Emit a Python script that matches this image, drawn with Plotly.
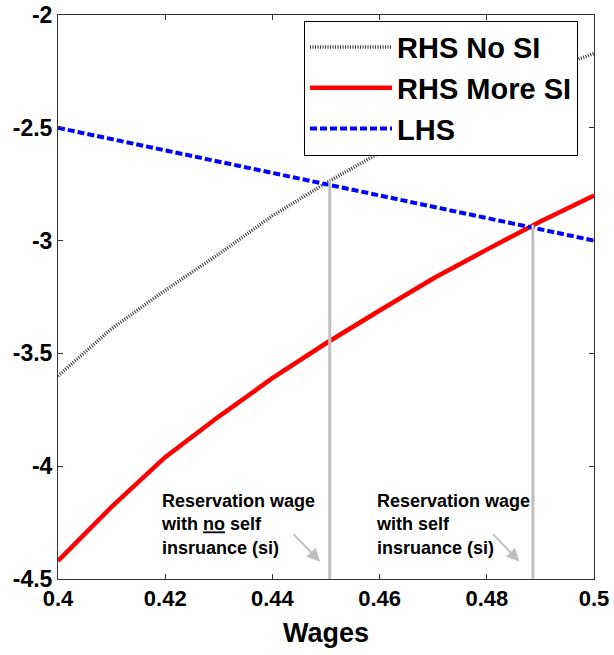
import plotly.graph_objects as go

wages = [0.40, 0.41, 0.42, 0.43, 0.44, 0.45, 0.46, 0.47, 0.48, 0.49, 0.50]
rhs_no_si = [-3.60, -3.39, -3.22, -3.06, -2.89, -2.745, -2.61, -2.48, -2.365, -2.26, -2.17]
rhs_more_si = [-4.42, -4.18, -3.96, -3.78, -3.61, -3.455, -3.31, -3.168, -3.04, -2.915, -2.80]
lhs = [-2.50, -2.55, -2.60, -2.65, -2.70, -2.75, -2.80, -2.85, -2.90, -2.95, -3.00]

res_wages = [0.4507, 0.4886]
res_values = [-2.733, -2.93]
y_floor = -4.5

x_ticks = [0.4, 0.42, 0.44, 0.46, 0.48, 0.5]
x_tick_text = ["0.4", "0.42", "0.44", "0.46", "0.48", "0.5"]
y_ticks = [-4.5, -4, -3.5, -3, -2.5, -2]
y_tick_text = ["-4.5", "-4", "-3.5", "-3", "-2.5", "-2"]

FONT = "Liberation Sans, Arial, sans-serif"

fig = go.Figure()
fig.add_trace(go.Scatter(x=wages, y=rhs_no_si, mode="lines", name="RHS No SI",
                         line=dict(color="#333333", width=3.5, dash="1px,1.5px")))
fig.add_trace(go.Scatter(x=wages, y=rhs_more_si, mode="lines", name="RHS More SI",
                         line=dict(color="#ff0000", width=4.5)))
fig.add_trace(go.Scatter(x=wages, y=lhs, mode="lines", name="LHS",
                         line=dict(color="#0000ff", width=4, dash="7px,3px")))
for xw, yv in zip(res_wages, res_values):
    fig.add_trace(go.Scatter(x=[xw, xw], y=[y_floor, yv], mode="lines", showlegend=False,
                             line=dict(color="#c0c0c0", width=3), hoverinfo="skip"))

ann_font = dict(family=FONT, size=18, color="black", weight="bold")
fig.add_annotation(x=0.4189, y=-4.10, xref="x", yref="y", xanchor="left", yanchor="top",
                   align="left", showarrow=False, font=ann_font,
                   text="Reservation wage<br>with <u>no</u> self<br>insruance (si)")
fig.add_annotation(x=0.4590, y=-4.10, xref="x", yref="y", xanchor="left", yanchor="top",
                   align="left", showarrow=False, font=ann_font,
                   text="Reservation wage<br>with self<br>insruance (si)")
for tip in [0.4489, 0.4861]:
    fig.add_annotation(x=tip, y=-4.423, xref="x", yref="y", text="", showarrow=True,
                       ax=-28, ay=-29, arrowhead=2, arrowsize=1.3, arrowwidth=2,
                       arrowcolor="#c0c0c0")

axis_common = dict(showgrid=False, zeroline=False, showline=True, linecolor="#333333",
                   linewidth=1, mirror="ticks", ticks="inside", ticklen=5,
                   tickcolor="#333333", automargin=False)

fig.update_xaxes(range=[0.4, 0.5], tickvals=x_ticks, ticktext=x_tick_text,
                 tickfont=dict(family=FONT, size=22, color="black", weight="bold"),
                 title=dict(text="Wages", font=dict(family=FONT, size=27, color="black", weight="bold"),
                            standoff=12),
                 **axis_common)
fig.update_yaxes(range=[-4.5, -2], tickvals=y_ticks, ticktext=y_tick_text,
                 tickfont=dict(family=FONT, size=23, color="black", weight="bold"),
                 **axis_common)

fig.update_layout(
    width=614, height=655,
    margin=dict(l=58, r=20, t=15, b=76),
    plot_bgcolor="white", paper_bgcolor="white",
    legend=dict(x=0.459, y=0.990, xanchor="left", yanchor="top",
                bgcolor="white", bordercolor="black", borderwidth=1,
                font=dict(family=FONT, size=29, color="black", weight="bold"),
                itemwidth=82, tracegroupgap=0),
    showlegend=True,
)

fig.write_html("out.html", config={"displayModeBar": False},
               post_script="document.body.style.margin='0px';")
